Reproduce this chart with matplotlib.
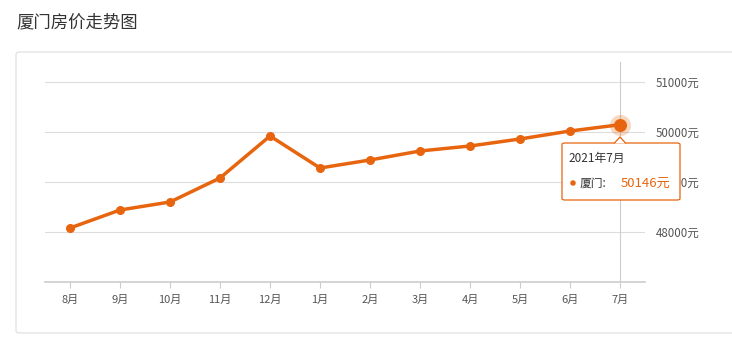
import matplotlib.pyplot as plt
from matplotlib.patches import FancyBboxPatch, Ellipse, Polygon

plt.rcParams['font.family'] = ['Noto Sans CJK SC', 'DejaVu Sans']

months = ['8月', '9月', '10月', '11月', '12月', '1月', '2月', '3月', '4月', '5月', '6月', '7月']
prices = [48080, 48440, 48600, 49080, 49920, 49280, 49440, 49620, 49720, 49860, 50020, 50146]
y_ticks = [48000, 49000, 50000, 51000]
city = '厦门'
tip_title = '2021年7月'

orange = '#E8650F'
W, H = 732, 345

fig = plt.figure(figsize=(W / 100, H / 100), dpi=100)
fig.patch.set_facecolor('white')

# title and outer panel
fig.text(16 / W, 1 - 22 / H, '厦门房价走势图', fontsize=12.5, color='#333333', va='center')
panel = FancyBboxPatch((16 / W, 12 / H), 730 / W, 281 / H, boxstyle='round,pad=0,rounding_size=0.006',
                       transform=fig.transFigure, fc='white', ec='#dddddd', lw=0.8, zorder=-1)
fig.patches.append(panel)

ax = fig.add_axes([45 / W, 63 / H, 600 / W, 220 / H])
x = list(range(len(months)))
ax.set_xlim(-0.5, len(months) - 0.5)
ax.set_ylim(47000, 51400)

for v in y_ticks:
    ax.axhline(v, color='#dddddd', lw=0.8, zorder=0)
ax.axvline(x[-1], color='#cccccc', lw=0.8, zorder=1)

ax.plot(x, prices, color=orange, lw=2.5, marker='o', ms=5.5, zorder=3)
ax.scatter([x[-1]], [prices[-1]], s=230, color=orange, alpha=0.25, lw=0, zorder=2)
ax.scatter([x[-1]], [prices[-1]], s=70, color=orange, zorder=4)

for s in ['top', 'left', 'right']:
    ax.spines[s].set_visible(False)
ax.spines['bottom'].set_color('#cccccc')
ax.spines['bottom'].set_linewidth(1.2)
ax.set_xticks(x)
ax.set_xticklabels(months)
ax.tick_params(axis='x', colors='#cccccc', length=4, labelcolor='#555555', labelsize=8, pad=5)
ax.yaxis.tick_right()
ax.set_yticks(y_ticks)
ax.set_yticklabels([f'{v}元' for v in y_ticks])
ax.tick_params(axis='y', length=0, labelcolor='#555555', labelsize=8.3, pad=8)
ax.patch.set_alpha(0)

# tooltip
tip = FancyBboxPatch((562 / W, 1 - 200 / H), 118 / W, 57 / H, boxstyle='round,pad=0,rounding_size=0.004',
                     transform=fig.transFigure, fc='white', ec=orange, lw=0.9, zorder=10)
fig.patches.append(tip)
notch = Polygon([(614 / W, 1 - 143.5 / H), (620 / W, 1 - 137 / H), (626 / W, 1 - 143.5 / H)],
                closed=False, transform=fig.transFigure, fc='white', ec=orange, lw=0.9, zorder=11)
fig.patches.append(notch)
fig.text(568 / W, 1 - 158 / H, tip_title, fontsize=8.5, color='#333333', va='center', zorder=11)
fig.patches.append(Ellipse((573 / W, 1 - 183 / H), 5.5 / W, 5.5 / H, transform=fig.transFigure,
                           fc=orange, ec='none', zorder=11))
fig.text(580 / W, 1 - 183 / H, f'{city}:', fontsize=8.5, color='#333333', va='center', zorder=11)
fig.text(621 / W, 1 - 183 / H, f'{prices[-1]}元', fontsize=9.5, color=orange, va='center', zorder=11)

fig.savefig('out.png', dpi=100)
